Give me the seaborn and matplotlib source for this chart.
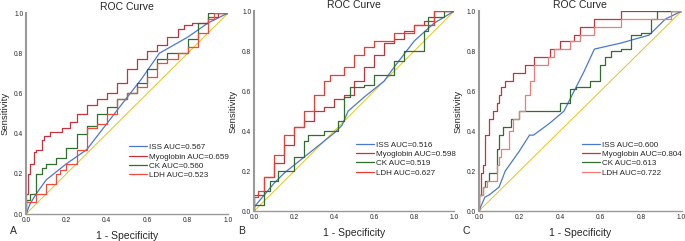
import numpy as np
import seaborn as sns
import pandas as pd
import matplotlib.pyplot as plt

sns.set_style("white")
plt.rcParams['font.family'] = ['Liberation Sans', 'DejaVu Sans']

# ---- panel A ----
a_iss_x = [0, 0.02, 0.05, 0.1, 0.2, 0.3, 0.4, 0.5, 0.57, 0.66, 0.8, 0.9, 1.0]
a_iss_y = [0, 0.05, 0.1, 0.17, 0.25, 0.32, 0.45, 0.58, 0.67, 0.8, 0.88, 0.95, 1.0]
a_myo_x = [0, 0.01, 0.02, 0.04, 0.05, 0.08, 0.09, 0.12, 0.18, 0.22, 0.25, 0.3, 0.35, 0.4, 0.45,
           0.5, 0.55, 0.6, 0.65, 0.7, 0.75, 0.78, 0.82, 0.9, 0.95, 1.0]
a_myo_y = [0, 0.1, 0.2, 0.25, 0.31, 0.32, 0.37, 0.39, 0.41, 0.43, 0.46, 0.5, 0.54, 0.57, 0.6,
           0.65, 0.72, 0.77, 0.81, 0.84, 0.88, 0.92, 0.94, 0.95, 0.98, 1.0]
a_ck_x = [0, 0.02, 0.05, 0.08, 0.1, 0.15, 0.2, 0.25, 0.3, 0.35, 0.4, 0.45, 0.5, 0.55, 0.6,
          0.65, 0.7, 0.8, 0.85, 0.9, 1.0]
a_ck_y = [0, 0.07, 0.1, 0.2, 0.23, 0.25, 0.28, 0.33, 0.4, 0.44, 0.5, 0.53, 0.57, 0.6, 0.65,
          0.72, 0.77, 0.8, 0.87, 0.95, 1.0]
a_ldh_x = [0, 0.02, 0.05, 0.1, 0.15, 0.17, 0.2, 0.25, 0.3, 0.35, 0.4, 0.45, 0.5, 0.55, 0.6,
           0.65, 0.7, 0.75, 0.8, 0.85, 0.9, 0.93, 0.96, 1.0]
a_ldh_y = [0, 0.06, 0.06, 0.1, 0.15, 0.2, 0.22, 0.25, 0.32, 0.43, 0.45, 0.5, 0.57, 0.6, 0.63,
           0.68, 0.75, 0.77, 0.8, 0.83, 0.9, 0.97, 1.0, 1.0]
a_auc = ["0.567", "0.659", "0.560", "0.523"]

# ---- panel B ----
b_iss_x = [0, 0.05, 0.1, 0.15, 0.2, 0.3, 0.4, 0.44, 0.47, 0.55, 0.65, 0.7, 0.8, 0.9, 1.0]
b_iss_y = [0.02, 0.08, 0.14, 0.19, 0.23, 0.31, 0.39, 0.43, 0.5, 0.57, 0.65, 0.72, 0.85, 0.94, 1.0]
b_myo_x = [0, 0.05, 0.1, 0.15, 0.2, 0.25, 0.3, 0.35, 0.4, 0.45, 0.5, 0.55, 0.6, 0.65, 0.7,
           0.75, 0.8, 0.85, 0.9, 1.0]
b_myo_y = [0, 0.08, 0.17, 0.24, 0.33, 0.42, 0.45, 0.5, 0.52, 0.56, 0.58, 0.65, 0.72, 0.78, 0.84,
           0.86, 0.9, 0.93, 0.95, 1.0]
b_ck_x = [0, 0.05, 0.08, 0.12, 0.2, 0.25, 0.27, 0.35, 0.42, 0.45, 0.48, 0.55, 0.6, 0.7, 0.75,
          0.85, 0.87, 0.95, 1.0]
b_ck_y = [0, 0.03, 0.1, 0.15, 0.2, 0.27, 0.35, 0.38, 0.4, 0.45, 0.57, 0.62, 0.63, 0.68, 0.75,
          0.8, 0.9, 0.97, 1.0]
b_ldh_x = [0, 0.02, 0.05, 0.1, 0.15, 0.2, 0.25, 0.3, 0.35, 0.38, 0.45, 0.5, 0.55, 0.6, 0.7,
           0.8, 0.9, 1.0]
b_ldh_y = [0, 0.07, 0.1, 0.17, 0.28, 0.38, 0.42, 0.5, 0.58, 0.65, 0.68, 0.72, 0.78, 0.82, 0.85,
           0.89, 0.93, 1.0]
b_auc = ["0.516", "0.598", "0.519", "0.627"]

# ---- panel C ----
c_iss_x = [0, 0.03, 0.05, 0.1, 0.13, 0.2, 0.25, 0.27, 0.35, 0.42, 0.48, 0.52, 0.57, 0.7, 0.84,
           0.92, 1.0]
c_iss_y = [0, 0.07, 0.08, 0.12, 0.2, 0.3, 0.38, 0.38, 0.44, 0.5, 0.62, 0.7, 0.81, 0.84, 0.88,
           0.96, 1.0]
c_myo_x = [0, 0.01, 0.02, 0.03, 0.05, 0.07, 0.09, 0.1, 0.11, 0.13, 0.17, 0.23, 0.27, 0.35, 0.4,
           0.47, 0.5, 0.57, 0.7, 1.0]
c_myo_y = [0, 0.08, 0.19, 0.23, 0.38, 0.46, 0.5, 0.54, 0.58, 0.62, 0.65, 0.69, 0.73, 0.77, 0.81,
           0.85, 0.88, 0.92, 0.96, 1.0]
c_ck_x = [0, 0.02, 0.03, 0.05, 0.09, 0.1, 0.12, 0.16, 0.2, 0.25, 0.4, 0.45, 0.48, 0.55, 0.6,
          0.62, 0.65, 0.7, 0.75, 0.8, 0.85, 0.88, 0.92, 1.0]
c_ck_y = [0, 0.08, 0.12, 0.15, 0.19, 0.31, 0.38, 0.42, 0.46, 0.5, 0.5, 0.54, 0.61, 0.62, 0.65,
          0.73, 0.77, 0.8, 0.81, 0.88, 0.89, 0.96, 1.0, 1.0]
c_ldh_x = [0, 0.02, 0.04, 0.09, 0.1, 0.11, 0.15, 0.17, 0.2, 0.23, 0.25, 0.27, 0.3, 0.34, 0.37,
           0.45, 0.5, 0.57, 0.7, 0.75, 0.95, 0.97, 1.0]
c_ldh_y = [0, 0.08, 0.12, 0.15, 0.23, 0.27, 0.31, 0.4, 0.46, 0.5, 0.58, 0.65, 0.73, 0.73, 0.77,
           0.81, 0.85, 0.88, 0.92, 0.96, 0.96, 1.0, 1.0]
c_auc = ["0.600", "0.804", "0.613", "0.722"]

names = ["ISS", "Myoglobin", "CK", "LDH"]
blue = "#4a78d0"
myo_col = "#c8303c"
ck_col = "#2f6e2f"
diag_col = "#e2c420"

panels = [
    ("A", [(a_iss_x, a_iss_y), (a_myo_x, a_myo_y), (a_ck_x, a_ck_y), (a_ldh_x, a_ldh_y)], a_auc,
     "#f04a3a", [0.038, 0.112, 0.295, 0.834]),
    ("B", [(b_iss_x, b_iss_y), (b_myo_x, b_myo_y), (b_ck_x, b_ck_y), (b_ldh_x, b_ldh_y)], b_auc,
     "#ee3a30", [0.371, 0.124, 0.292, 0.830]),
    ("C", [(c_iss_x, c_iss_y), (c_myo_x, c_myo_y), (c_ck_x, c_ck_y), (c_ldh_x, c_ldh_y)], c_auc,
     "#f07a78", [0.699, 0.124, 0.296, 0.830]),
]

fig = plt.figure(figsize=(6.85, 2.41), dpi=100)

ticks = np.arange(0, 1.01, 0.2)
for letter, curves, aucs, ldh_col, pos in panels:
    ax = fig.add_axes(pos)
    cols = [blue, myo_col, ck_col, ldh_col]
    sns.lineplot(x=[0, 1], y=[0, 1], ax=ax, color=diag_col, linewidth=0.7)
    for i, (xs, ys) in enumerate(curves):
        df = pd.DataFrame({"fpr": xs, "tpr": ys})
        style = "default" if i == 0 else "steps-pre"
        sns.lineplot(data=df, x="fpr", y="tpr", ax=ax, color=cols[i], linewidth=0.9,
                     sort=False, drawstyle=style, label=f"{names[i]} AUC={aucs[i]}")
    ax.set_xlim(0, 1)
    ax.set_ylim(0, 1)
    ax.set_xticks(ticks)
    ax.set_yticks(ticks)
    ax.set_xticklabels([f"{v:.1f}" for v in ticks])
    ax.set_yticklabels([f"{v:.1f}" for v in ticks])
    ax.tick_params(labelsize=4.8, length=0, pad=2)
    for s in ["top", "right"]:
        ax.spines[s].set_visible(False)
    ax.spines["left"].set_color("#999999")
    ax.spines["left"].set_linewidth(1.5)
    ax.spines["bottom"].set_color("#999999")
    ax.spines["bottom"].set_linewidth(1.0)
    ax.set_title("ROC Curve", fontsize=7.5, pad=2)
    ax.set_ylabel("Sensitivity", fontsize=6.8, labelpad=3)
    ax.set_xlabel("1 - Specificity", fontsize=7.5, labelpad=5)
    ax.legend(loc="upper left", bbox_to_anchor=(0.49, 0.37), frameon=False, fontsize=5.8,
              handlelength=2.2, handletextpad=0.3, labelspacing=0.2, borderpad=0)
    fig.text(pos[0] - 0.024, 0.03, letter, fontsize=7.5)

fig.savefig("out.png", dpi=100)
